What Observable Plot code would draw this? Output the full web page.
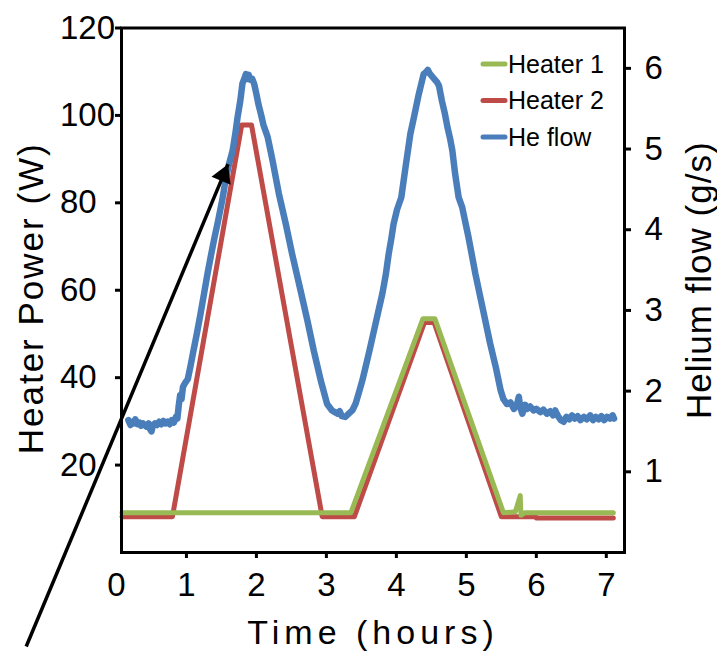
<!DOCTYPE html>
<html>
<head>
<meta charset="utf-8">
<script src="https://cdn.jsdelivr.net/npm/d3@7"></script>
<script src="https://cdn.jsdelivr.net/npm/@observablehq/plot@0.6"></script>
<style>
  html, body { margin: 0; padding: 0; background: #fff; }
  #chart svg { font-family: "Liberation Sans", Arial, sans-serif; }
</style>
</head>
<body>
<div id="chart"></div>
<script>
// ---------- data ----------
const seriesNames = ["Heater 1", "Heater 2", "He flow"];
const seriesColors = ["#98B954", "#BE4B48", "#4A7EBB"];

// Heater 1 power (W) vs time (hours)
const heater1Hours = [0.08, 3.35, 4.38, 4.55, 5.53, 5.70, 5.77, 5.78, 5.84, 7.10];
const heater1Power = [9.1, 9.1, 53.5, 53.5, 9.1, 9.3, 13.0, 8.5, 9.1, 9.1];

// Heater 2 power (W) vs time (hours)
const heater2Hours = [0.08, 0.80, 1.79, 1.93, 2.94, 3.40, 4.40, 4.54, 5.50, 5.99, 6.00, 7.10];
const heater2Power = [8.2, 8.2, 97.8, 97.8, 8.2, 8.2, 52.6, 52.6, 8.2, 8.2, 7.9, 7.9];

// Helium flow (g/s) vs time (hours)
const heHours = [
  0.17, 0.20, 0.22, 0.25, 0.27, 0.30, 0.33, 0.35, 0.38, 0.40, 0.43, 0.46, 0.48, 0.50,
  0.52, 0.55, 0.58, 0.61, 0.64, 0.67, 0.70, 0.73, 0.76, 0.79, 0.82, 0.85, 0.87, 0.89,
  0.91, 0.93, 0.95, 0.98, 1.02, 1.06, 1.10, 1.15, 1.20, 1.25, 1.30, 1.35, 1.40, 1.45,
  1.51, 1.56, 1.61, 1.66, 1.70, 1.73, 1.77, 1.80, 1.83, 1.85, 1.87, 1.89, 1.91, 1.94,
  1.97, 2.00, 2.03, 2.06, 2.10, 2.16, 2.23, 2.32, 2.42, 2.51, 2.63, 2.73, 2.82, 2.92,
  3.01, 3.08, 3.12, 3.16, 3.19, 3.22, 3.27, 3.32, 3.37, 3.42, 3.46, 3.51, 3.56, 3.62,
  3.68, 3.74, 3.80, 3.85, 3.89, 3.93, 3.96, 4.01, 4.07, 4.13, 4.20, 4.25, 4.32, 4.39,
  4.42, 4.45, 4.48, 4.51, 4.54, 4.58, 4.61, 4.65, 4.69, 4.73, 4.77, 4.80, 4.84, 4.89,
  4.94, 5.03, 5.13, 5.23, 5.34, 5.42, 5.49, 5.53, 5.58, 5.63, 5.68, 5.72, 5.75, 5.77,
  5.80, 5.84, 5.87, 5.91, 5.96, 6.00, 6.06, 6.10, 6.15, 6.20, 6.24, 6.27, 6.31, 6.35,
  6.39, 6.43, 6.47, 6.51, 6.55, 6.59, 6.63, 6.68, 6.72, 6.77, 6.81, 6.85, 6.89, 6.93,
  6.97, 7.01, 7.05, 7.09, 7.11
];
const heFlow = [
  1.64, 1.58, 1.62, 1.60, 1.65, 1.59, 1.61, 1.57, 1.60, 1.58, 1.56, 1.60, 1.53, 1.50,
  1.57, 1.60, 1.58, 1.62, 1.59, 1.63, 1.60, 1.62, 1.59, 1.64, 1.61, 1.68, 1.66, 1.82,
  1.95, 1.90, 2.05, 2.10, 2.15, 2.32, 2.50, 2.72, 2.95, 3.20, 3.45, 3.68, 3.90, 4.10,
  4.36, 4.62, 4.82, 4.98, 5.20, 5.39, 5.60, 5.81, 5.88, 5.93, 5.87, 5.92, 5.86, 5.87,
  5.80, 5.68, 5.55, 5.45, 5.30, 5.15, 4.86, 4.45, 4.07, 3.70, 3.25, 2.87, 2.50, 2.13,
  1.84, 1.76, 1.74, 1.72, 1.75, 1.69, 1.68, 1.72, 1.76, 1.85, 1.97, 2.12, 2.30, 2.52,
  2.75, 2.98, 3.21, 3.45, 3.70, 3.90, 4.07, 4.25, 4.40, 4.77, 5.19, 5.39, 5.68, 5.93,
  5.95, 5.98, 5.93, 5.90, 5.87, 5.83, 5.78, 5.60, 5.45, 5.27, 5.12, 4.98, 4.69, 4.40,
  4.28, 3.91, 3.45, 3.04, 2.59, 2.30, 2.01, 1.90, 1.84, 1.86, 1.78, 1.82, 1.93, 1.80,
  1.72, 1.83, 1.78, 1.81, 1.76, 1.78, 1.74, 1.77, 1.72, 1.75, 1.70, 1.76, 1.69, 1.64,
  1.62, 1.68, 1.65, 1.70, 1.66, 1.69, 1.64, 1.68, 1.65, 1.70, 1.64, 1.68, 1.65, 1.69,
  1.64, 1.68, 1.66, 1.70, 1.66
];

// axis ticks
const hourTicks = [0, 1, 2, 3, 4, 5, 6, 7];
const powerTicks = [20, 40, 60, 80, 100, 120];
const flowTicks = [1, 2, 3, 4, 5, 6];

// axis titles
const xTitle = "Time (hours)";
const yTitle = "Heater Power (W)";
const y2Title = "Helium flow (g/s)";

// scale extents
const hourExtent = [0.072, 7.26];
const powerExtent = [0, 120];
const flowExtent = [0, 6.5];

// annotation arrow (hours, W)
const arrowStart = [-1.29, -21.5];
const arrowEnd = [1.594, 88.85];

// ---------- build ----------
const toPower = f => (f - flowExtent[0]) * (powerExtent[1] - powerExtent[0]) / (flowExtent[1] - flowExtent[0]) + powerExtent[0];
const toFlow = p => (p - powerExtent[0]) * (flowExtent[1] - flowExtent[0]) / (powerExtent[1] - powerExtent[0]) + flowExtent[0];

const h1 = heater1Hours.map((t, i) => ({t, v: heater1Power[i]}));
const h2 = heater2Hours.map((t, i) => ({t, v: heater2Power[i]}));
const he = heHours.map((t, i) => ({t, v: toPower(heFlow[i])}));

const FONT = "Liberation Sans, Arial, sans-serif";

const plot = Plot.plot({
  width: 717,
  height: 653,
  marginLeft: 121,
  marginRight: 93,
  marginTop: 27.5,
  marginBottom: 101,
  style: {fontFamily: FONT, color: "black", background: "white", overflow: "visible"},
  x: {domain: hourExtent},
  y: {domain: powerExtent},
  marks: [
    Plot.line(h2, {x: "t", y: "v", stroke: seriesColors[1], strokeWidth: 5, strokeLinejoin: "round"}),
    Plot.line(h1, {x: "t", y: "v", stroke: seriesColors[0], strokeWidth: 5, strokeLinejoin: "round"}),
    Plot.line(he, {x: "t", y: "v", stroke: seriesColors[2], strokeWidth: 6.5, strokeLinejoin: "round", strokeLinecap: "round"}),
    Plot.frame({stroke: "black", strokeWidth: 3}),
    // left axis: tick marks, then labels (left-aligned as in the reference)
    Plot.axisY(powerTicks, {anchor: "left", tickSize: 6, strokeWidth: 3, label: null, tickFormat: () => ""}),
    Plot.axisY(powerTicks, {anchor: "left", tickSize: 0, tickPadding: 6, label: null,
      textAnchor: "start", dx: -55.5, fontSize: 33}),
    // right axis (helium flow)
    Plot.axisY(flowTicks.map(toPower), {anchor: "right", tickSize: 6, tickPadding: 14, strokeWidth: 3, label: null,
      tickFormat: d => String(Math.round(toFlow(d))), fontSize: 33}),
    // bottom axis: labels and tick marks
    Plot.axisX(hourTicks, {anchor: "bottom", tickSize: 0, tickPadding: 20, label: null, fontSize: 33}),
    Plot.axisX(hourTicks.filter(d => d > hourExtent[0]), {anchor: "bottom", tickSize: 6, strokeWidth: 3,
      label: null, tickFormat: () => ""}),
    // titles
    Plot.text([xTitle], {frameAnchor: "bottom", dy: 91, textAnchor: "middle", lineAnchor: "bottom", fontSize: 34, text: d => d}),
    Plot.text([yTitle], {frameAnchor: "left", dx: -79, dy: 8, rotate: -90, textAnchor: "middle", lineAnchor: "bottom", fontSize: 35, text: d => d}),
    Plot.text([y2Title], {frameAnchor: "right", dx: 86, dy: -10, rotate: -90, textAnchor: "middle", lineAnchor: "bottom", fontSize: 35, text: d => d}),
    // annotation arrow
    Plot.link([arrowStart], {x1: d => d[0], y1: d => d[1], x2: () => arrowEnd[0], y2: () => arrowEnd[1],
      stroke: "black", strokeWidth: 3.5}),
    Plot.dot([arrowEnd], {x: d => d[0], y: d => d[1], symbol: "triangle", r: 7.7, fill: "black", stroke: "none",
      rotate: 22.7, dx: -4.63, dy: 11.08})
  ]
});

// legend inside the plot (top right)
const svg = d3.select(plot);
const legendX = 483, legendY = 64, legendGap = 36.5;
const lg = svg.append("g").attr("text-anchor", "start");
seriesNames.forEach((name, i) => {
  const y = legendY + i * legendGap;
  lg.append("line").attr("x1", legendX).attr("x2", legendX + 22).attr("y1", y).attr("y2", y)
    .attr("stroke", seriesColors[i]).attr("stroke-width", 5).attr("stroke-linecap", "round");
  lg.append("text").attr("x", legendX + 25).attr("y", y).attr("dy", "0.35em")
    .attr("text-anchor", "start")
    .attr("font-size", 25).attr("font-family", FONT).attr("fill", "black").text(name);
});

// letter spacing for titles
svg.selectAll("text").each(function() {
  const t = this.textContent;
  if (t === xTitle) this.setAttribute("letter-spacing", "5");
  if (t === yTitle) this.setAttribute("letter-spacing", "2");
  if (t === y2Title) this.setAttribute("letter-spacing", "1");
});

document.getElementById("chart").appendChild(plot);
</script>
</body>
</html>
